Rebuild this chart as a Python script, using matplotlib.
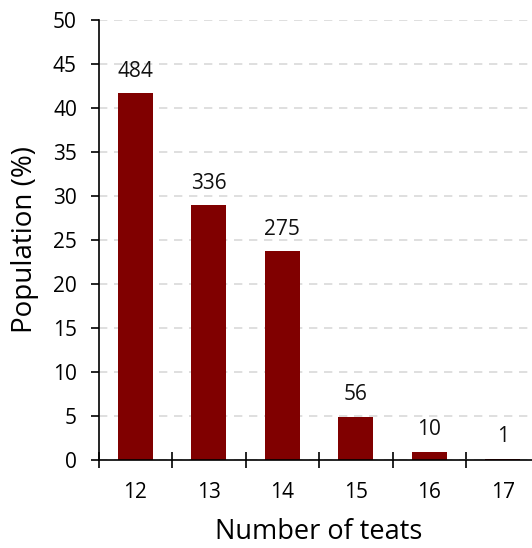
import matplotlib.pyplot as plt
import numpy as np

# teat count categories, share of population (%) and number of animals
teats = ['12', '13', '14', '15', '16', '17']
population_pct = [41.65, 28.92, 23.67, 4.82, 0.86, 0.09]
counts = [484, 336, 275, 56, 10, 1]

plt.rcParams['font.family'] = ['Open Sans', 'DejaVu Sans']

fig = plt.figure(figsize=(5.32, 5.48), dpi=100)
# axes runs a little past the right edge, as in the original
ax = fig.add_axes([98.5 / 532, 88.5 / 548, 441 / 532, 439.5 / 548])

x = np.arange(len(teats))
bars = ax.bar(x, population_pct, width=0.47, color='#800000', zorder=3)

# count labels above bars
for xi, val, n in zip(x, population_pct, counts):
    ax.annotate(str(n), (xi, val), xytext=(0, 12), textcoords='offset points',
                ha='center', va='baseline', fontsize=15, color='#111111')

ax.set_xlim(-0.5, len(teats) - 0.5)
ax.set_ylim(0, 50)
ax.set_yticks(np.arange(0, 51, 5))

# category labels centred, tick marks between categories
ax.set_xticks(x)
ax.set_xticklabels(teats)
ax.set_xticks(np.arange(-0.5, len(teats) - 0.5, 1), minor=True)
ax.tick_params(axis='x', which='major', length=0, labelsize=15, pad=16)
ax.tick_params(axis='x', which='minor', direction='inout', length=11.5, width=1.2)
ax.tick_params(axis='y', direction='out', length=5.5, width=1.2, labelsize=15, pad=10)

ax.grid(axis='y', color='#d9d9d9', linestyle=(0, (5, 4)), linewidth=1.2, zorder=0)

for side in ['top', 'right']:
    ax.spines[side].set_visible(False)
for side in ['left', 'bottom']:
    ax.spines[side].set_linewidth(1.2)
    ax.spines[side].set_zorder(4)

ax.set_xlabel('Number of teats', fontsize=19.5, labelpad=11)
ax.set_ylabel('Population (%)', fontsize=20, labelpad=10)

fig.savefig('out.png', dpi=100)
